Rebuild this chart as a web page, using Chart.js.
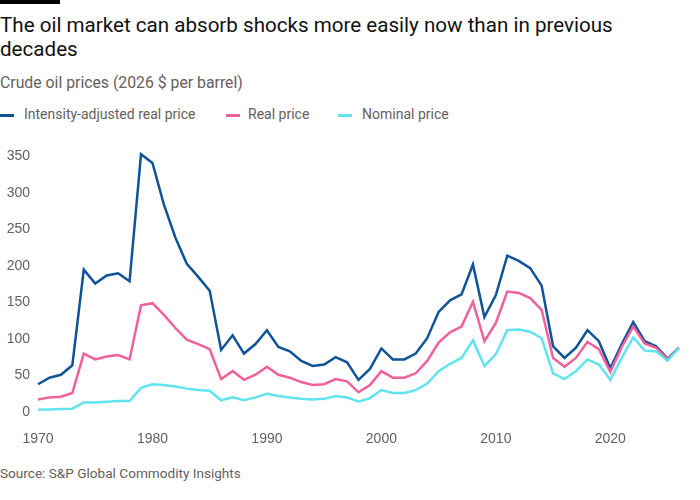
<!DOCTYPE html>
<html>
<head>
<meta charset="utf-8">
<script src="https://cdn.jsdelivr.net/npm/chart.js@4"></script>
<style>
  html, body { margin: 0; padding: 0; background: #fff; }
  body { width: 700px; height: 500px; position: relative; overflow: hidden; font-family: Roboto, 'Noto Sans', sans-serif; }
  .bar { position: absolute; left: 0; top: 0; width: 60px; height: 4px; background: #000; }
  h1 { position: absolute; left: 0; top: 13px; margin: 0; width: 680px; font-weight: 400; font-size: 20.6px; line-height: 24px; color: #111; }
  .sub { position: absolute; left: 0; top: 73px; font-size: 15.8px; color: #66605c; }
  .legend { position: absolute; top: 106px; left: 0; font-size: 14px; color: #66605c; }
  .legend span { position: absolute; white-space: nowrap; }
  .legend i { position: absolute; top: 8px; width: 14px; height: 3px; }
  .src { position: absolute; left: 0; top: 465px; font-size: 13.6px; color: #66605c; }
  #wrap { position: absolute; left: 0; top: 140px; width: 700px; height: 310px; }
</style>
</head>
<body>
<div class="bar"></div>
<h1>The oil market can absorb shocks more easily now than in previous<br>decades</h1>
<div class="sub">Crude oil prices (2026 $ per barrel)</div>
<div class="legend">
  <i style="left:0;background:#0f5499"></i><span style="left:24px">Intensity-adjusted real price</span>
  <i style="left:226px;background:#f0609a"></i><span style="left:248px">Real price</span>
  <i style="left:338px;background:#61e4ef"></i><span style="left:362px">Nominal price</span>
</div>
<div class="src">Source: S&amp;P Global Commodity Insights</div>
<div id="wrap"><canvas id="c"></canvas></div>
<script>
// Values, one per year 1970-2026
const years = [];
for (let y = 1970; y <= 2026; y++) years.push(y);

const intensityAdjusted = [
  38, 47, 51, 64, 195, 176, 187, 190, 179, 353,
  341, 284, 239, 203, 185, 166, 85, 105, 80, 93,
  112, 89, 83, 70, 63, 65, 75, 68, 44, 59,
  87, 72, 72, 80, 101, 137, 153, 161, 202, 130,
  160, 214, 207, 197, 173, 90, 74, 88, 112, 97,
  60, 93, 123, 97, 90, 73, 88
];
const realPrice = [
  17, 20, 21, 26, 80, 72, 76, 78, 72, 146,
  149, 133, 115, 99, 93, 86, 45, 56, 44, 51,
  62, 51, 47, 41, 37, 38, 45, 42, 27, 37,
  56, 47, 47, 53, 70, 95, 109, 117, 151, 97,
  122, 165, 163, 156, 140, 74, 62, 74, 96, 86,
  55, 89, 117, 94, 88, 72, 88
];
const nominalPrice = [
  3, 3.5, 4, 4.5, 13, 13, 14, 15, 15, 33,
  38, 37, 35, 32, 30, 29, 16, 20, 16, 20,
  25, 22, 20, 18, 17, 18, 22, 20, 14, 19,
  30, 26, 26, 30, 39, 56, 66, 74, 98, 63,
  79, 112, 113, 110, 101, 53, 45, 56, 72, 65,
  44, 74, 102, 84, 83, 70, 88
];
const yTicks = [0, 50, 100, 150, 200, 250, 300, 350];
const xTicks = [1970, 1980, 1990, 2000, 2010, 2020];

const grey = '#66605c';
const pts = (vals) => vals.map((v, i) => ({ x: years[i], y: v }));
const line = (label, vals, color) => ({
  label, data: pts(vals), borderColor: color, backgroundColor: color,
  borderWidth: 2.5, pointRadius: 0, tension: 0, clip: false,
});

new Chart(document.getElementById('c'), {
  type: 'line',
  data: {
    datasets: [
      line('Nominal price', nominalPrice, '#61e4ef'),
      line('Real price', realPrice, '#f0609a'),
      line('Intensity-adjusted real price', intensityAdjusted, '#0f5499'),
    ],
  },
  options: {
    responsive: true, maintainAspectRatio: false, animation: false,
    layout: { padding: { top: 12, right: 21, left: 0, bottom: 0 } },
    plugins: { legend: { display: false }, tooltip: { enabled: false } },
    scales: {
      x: {
        type: 'linear', min: 1970, max: 2026,
        grid: { display: false }, border: { display: false },
        afterFit: (s) => { s.height = 38; },
        afterBuildTicks: (s) => { s.ticks = xTicks.map((v) => ({ value: v })); },
        ticks: { color: grey, font: { size: 14 }, padding: 11, maxRotation: 0, callback: (v) => String(v) },
      },
      y: {
        min: 0, max: 350,
        grid: { display: false, drawTicks: false }, border: { display: false },
        afterFit: (s) => { s.width = 38; },
        afterBuildTicks: (s) => { s.ticks = yTicks.map((v) => ({ value: v })); },
        ticks: { color: grey, font: { size: 14 }, padding: 8 },
      },
    },
  },
});
</script>
</body>
</html>
